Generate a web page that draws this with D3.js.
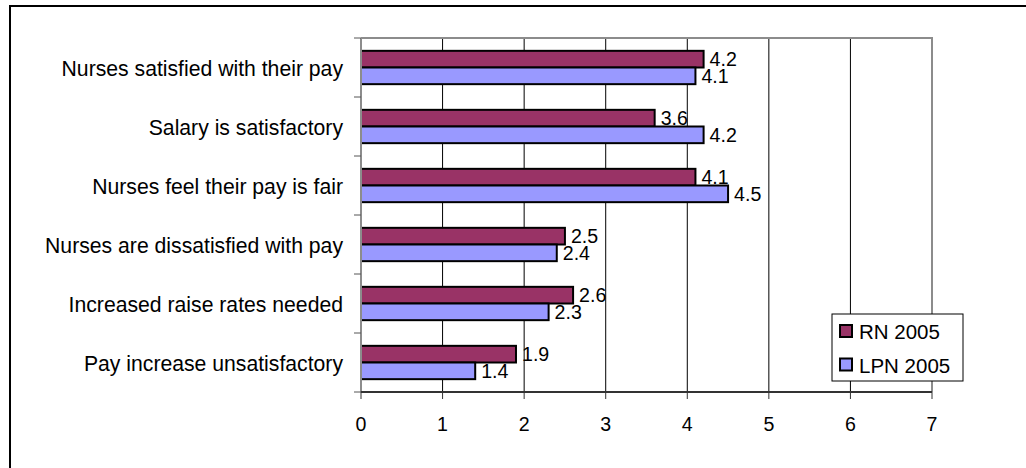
<!DOCTYPE html>
<html>
<head>
<meta charset="utf-8">
<style>
body { margin: 0; background: #fff; }
text { font-family: "Liberation Sans", Arial, sans-serif; fill: #000; }
</style>
</head>
<body>
<svg width="1026" height="468"></svg>
<script src="https://d3js.org/d3.v7.min.js"></script>
<script>

var categories = ["Nurses satisfied with their pay", "Salary is satisfactory",
    "Nurses feel their pay is fair", "Nurses are dissatisfied with pay",
    "Increased raise rates needed", "Pay increase unsatisfactory"];
var series = ["RN 2005", "LPN 2005"];
var rn2005 = [4.2, 3.6, 4.1, 2.5, 2.6, 1.9];
var lpn2005 = [4.1, 4.2, 4.5, 2.4, 2.3, 1.4];
var xTicks = [0, 1, 2, 3, 4, 5, 6, 7];

var colors = {"RN 2005": "#993366", "LPN 2005": "#9999ff"};
var values = {"RN 2005": rn2005, "LPN 2005": lpn2005};

var svg = d3.select("svg");

// outer chart border (runs off the right and bottom of the picture)
svg.append("rect")
    .attr("x", 10).attr("y", 6)
    .attr("width", 1040).attr("height", 480)
    .attr("fill", "none").attr("stroke", "#000").attr("stroke-width", 2);

var x = d3.scaleLinear().domain([0, 7]).range([361, 932]);
var y = d3.scaleBand().domain(categories).range([38, 392]);
var ySub = d3.scaleBand().domain(series).range([0, y.bandwidth()]).paddingOuter(0.77);

// gridlines
svg.append("g")
  .selectAll("line")
  .data(xTicks.slice(1, -1))
  .enter().append("line")
    .attr("x1", function(d) { return x(d); })
    .attr("x2", function(d) { return x(d); })
    .attr("y1", 38).attr("y2", 392)
    .attr("stroke", "#000").attr("stroke-width", 1);

// plot area border top/right
svg.append("path")
    .attr("d", "M" + x(0) + "," + y.range()[0] + "H" + x(7) + "V" + y.range()[1])
    .attr("fill", "none").attr("stroke", "#8c8c8c").attr("stroke-width", 2);

// bars
var groups = svg.append("g")
  .selectAll("g")
  .data(categories)
  .enter().append("g")
    .attr("transform", function(d) { return "translate(0," + y(d) + ")"; });

series.forEach(function(s) {
  groups.append("rect")
      .attr("x", x(0))
      .attr("y", ySub(s))
      .attr("width", function(d, i) { return x(values[s][i]) - x(0); })
      .attr("height", ySub.bandwidth())
      .attr("fill", colors[s])
      .attr("stroke", "#000").attr("stroke-width", 2);

  groups.append("text")
      .attr("x", function(d, i) { return x(values[s][i]) + 6; })
      .attr("y", ySub(s) + ySub.bandwidth() / 2 + 7)
      .style("font-size", "19.6px")
      .text(function(d, i) { return values[s][i].toFixed(1); });
});

// y axis
var yAxis = svg.append("g")
    .attr("transform", "translate(" + x(0) + ",0)");
yAxis.append("line")
    .attr("x1", 0).attr("x2", 0)
    .attr("y1", 38).attr("y2", 392)
    .attr("stroke", "#8c8c8c").attr("stroke-width", 2);
yAxis.selectAll(".tick")
  .data(categories.concat([null]))
  .enter().append("line")
    .attr("x1", -7).attr("x2", 0)
    .attr("y1", function(d, i) { return y.range()[0] + i * y.step(); })
    .attr("y2", function(d, i) { return y.range()[0] + i * y.step(); })
    .attr("stroke", "#555").attr("stroke-width", 1);
yAxis.selectAll(".lab")
  .data(categories)
  .enter().append("text")
    .attr("x", -18)
    .attr("y", function(d) { return y(d) + y.bandwidth() / 2 + 8; })
    .attr("text-anchor", "end")
    .style("font-size", "21.2px")
    .text(function(d) { return d; });

// x axis
var xAxis = svg.append("g")
    .attr("transform", "translate(0,392)");
xAxis.append("line")
    .attr("x1", x(0)).attr("x2", x(7))
    .attr("stroke", "#333").attr("stroke-width", 2);
xAxis.selectAll(".tick")
  .data(xTicks)
  .enter().append("line")
    .attr("x1", function(d) { return x(d); })
    .attr("x2", function(d) { return x(d); })
    .attr("y1", 0).attr("y2", 7)
    .attr("stroke", "#333").attr("stroke-width", 1);
xAxis.selectAll(".lab")
  .data(xTicks)
  .enter().append("text")
    .attr("x", function(d) { return x(d); })
    .attr("y", 39)
    .attr("text-anchor", "middle")
    .style("font-size", "19.6px")
    .text(function(d) { return d; });

// legend
var legend = svg.append("g").attr("transform", "translate(832,314)");
legend.append("rect")
    .attr("width", 131).attr("height", 67)
    .attr("fill", "#fff").attr("stroke", "#000").attr("stroke-width", 1);
var item = legend.selectAll(".item")
  .data(series)
  .enter().append("g")
    .attr("transform", function(d, i) { return "translate(0," + (11 + i * 33.5) + ")"; });
item.append("rect")
    .attr("x", 8).attr("y", 0)
    .attr("width", 12).attr("height", 12)
    .attr("fill", function(d) { return colors[d]; })
    .attr("stroke", "#000").attr("stroke-width", 2);
item.append("text")
    .attr("x", 27).attr("y", 14)
    .style("font-size", "20.5px")
    .text(function(d) { return d; });

</script>
</body>
</html>
